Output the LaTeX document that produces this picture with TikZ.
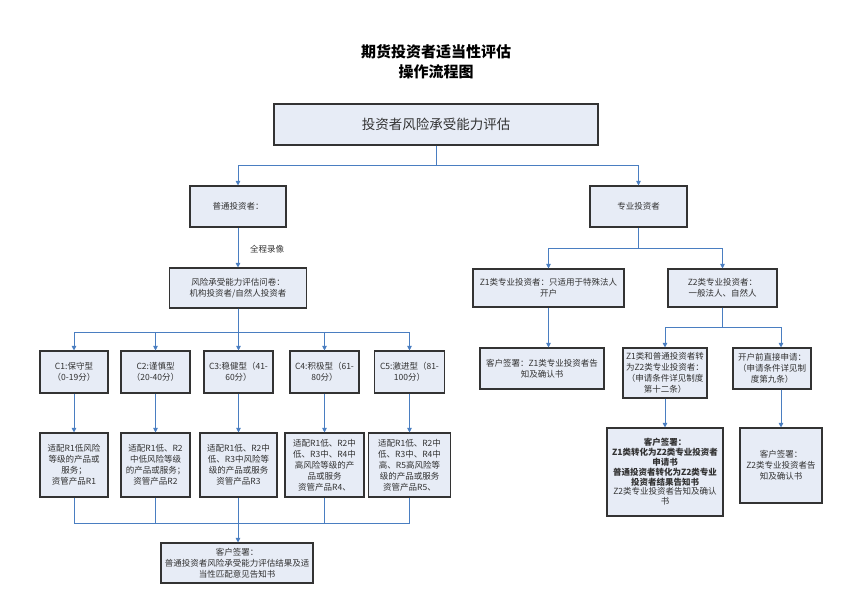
\documentclass[tikz,border=0pt]{standalone}
\usepackage{fontspec}
\setmainfont{Noto Sans CJK SC}
\usetikzlibrary{arrows.meta}
\definecolor{boxfill}{RGB}{231,236,246}
\definecolor{linkblue}{RGB}{74,126,193}
\definecolor{inkgray}{RGB}{50,50,50}
\tikzset{
  box/.style={draw=black!80, line width=1.1pt, fill=boxfill, align=center, text=inkgray,
    font=\fontsize{8.5}{11}\selectfont, inner sep=1pt},
  link/.style={draw=linkblue, line width=0.9pt},
  arr/.style={link, -{Triangle[width=4.5pt,length=4.5pt]}},
}
\begin{document}
\begin{tikzpicture}[x=1pt,y=-1pt]
\useasboundingbox (0,0) rectangle (859,602);
\node[align=center, font=\fontsize{15}{20}\selectfont\bfseries] (title) at (436,62)
  {期货投资者适当性评估\\操作流程图};
\node[box, minimum width=324, minimum height=41, font=\fontsize{13.5}{16}\selectfont] (top) at (436,124.5)
  {投资者风险承受能力评估};
\node[box, minimum width=96, minimum height=41] (pt) at (238,206.5) {普通投资者：};
\node[box, minimum width=97, minimum height=41] (zy) at (638.5,206.5) {专业投资者};
\node[box, minimum width=137, minimum height=40] (wj) at (238,288)
  {风险承受能力评估问卷：\\机构投资者/自然人投资者};
\node[text=inkgray, font=\fontsize{8.5}{11}\selectfont] (lx) at (267,249) {全程录像};
% professional side
\node[box, minimum width=151, minimum height=38] (z1) at (548.5,288)
  {Z1类专业投资者：只适用于特殊法人\\开户};
\node[box, minimum width=109, minimum height=38] (z2) at (722.5,288)
  {Z2类专业投资者：\\一般法人、自然人};
\node[box, minimum width=124, minimum height=41] (z1q) at (542,368.5)
  {客户签署：Z1类专业投资者告\\知及确认书};
\node[box, minimum width=84, minimum height=50] (zh) at (665,373)
  {Z1类和普通投资者转\\为Z2类专业投资者：\\（申请条件详见制度\\第十二条）};
\node[box, minimum width=78, minimum height=41] (kh) at (772,368.5)
  {开户前直接申请：\\（申请条件详见制\\度第九条）};
\node[box, minimum width=116, minimum height=88, font=\fontsize{8.5}{9.8}\selectfont] (zhq) at (665,472)
  {\bfseries 客户签署：\\\bfseries Z1类转化为Z2类专业投资者\\\bfseries 申请书\\\bfseries 普通投资者转化为Z2类专业\\\bfseries 投资者结果告知书\\Z2类专业投资者告知及确认\\书};
\node[box, minimum width=82, minimum height=75] (khq) at (781,465.5)
  {客户签署：\\Z2类专业投资者告\\知及确认书};
% ordinary side
\foreach \n/\x/\w/\t in {1/74/68/{C1:保守型\\（0-19分）},
    2/155.5/69/{C2:谨慎型\\（20-40分）},
    3/238.5/69/{C3:稳健型（41-\\60分）},
    4/324.5/69/{C4:积极型（61-\\80分）},
    5/409.5/70/{C5:激进型（81-\\100分）}}
  \node[box, minimum width=\w, minimum height=42] (c\n) at (\x,372) {\t};
\foreach \n/\x/\w/\t in {1/74/68/{适配R1低风险\\等级的产品或\\服务；\\资管产品R1},
    2/155.5/69/{适配R1低、R2\\中低风险等级\\的产品或服务；\\资管产品R2},
    3/238.5/77/{适配R1低、R2中\\低、R3中风险等\\级的产品或服务\\资管产品R3},
    4/324.5/79/{适配R1低、R2中\\低、R3中、R4中\\高风险等级的产\\品或服务\\资管产品R4、},
    5/409.5/82/{适配R1低、R2中\\低、R3中、R4中\\高、R5高风险等\\级的产品或服务\\资管产品R5、}}
  \node[box, minimum width=\w, minimum height=64] (r\n) at (\x,465) {\t};
\node[box, minimum width=152, minimum height=40] (fin) at (237,563)
  {客户签署：\\普通投资者风险承受能力评估结果及适\\当性匹配意见告知书};
\coordinate (rj) at (238,523);
% connectors
\draw[arr] (top.south) -- ++(0,20) -| (pt.north);
\draw[arr] (top.south) -- ++(0,20) -| (zy.north);
\draw[arr] (pt.south) -- (pt.south |- wj.north);
\foreach \n in {1,...,5}{
  \draw[arr] (wj.south) -- ++(0,24) -| (c\n.north);
  \draw[arr] (c\n.south) -- (r\n.north);
  \draw[link] (r\n.south) |- (rj);
}
\draw[arr] (rj) -- (rj |- fin.north);
\draw[arr] (zy.south) -- ++(0,21) -| (z1.north);
\draw[arr] (zy.south) -- ++(0,21) -| (z2.north);
\draw[arr] (z1.south) -- (z1.south |- z1q.north);
\draw[arr] (z2.south) -- ++(0,20) -| (zh.north);
\draw[arr] (z2.south) -- ++(0,20) -| (kh.north -| khq.north);
\draw[arr] (zh.south) -- (zhq.north);
\draw[arr] (kh.south -| khq.north) -- (khq.north);
\end{tikzpicture}
\end{document}
